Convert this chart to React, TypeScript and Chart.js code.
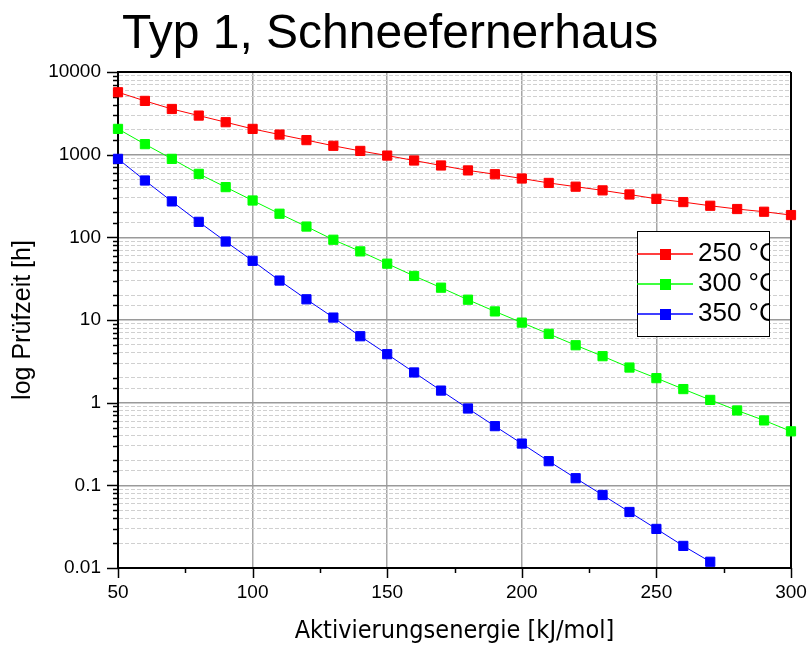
import { useEffect, useRef } from 'react';
import { Chart, registerables } from 'chart.js';

Chart.register(...registerables);

// Activation energy in kJ/mol (x axis)
const energies = [50, 60, 70, 80, 90, 100, 110, 120, 130, 140, 150, 160, 170, 180, 190, 200, 210, 220, 230, 240, 250, 260, 270, 280, 290, 300];

// Test duration in hours for each test temperature
const time250 = [5690, 4470, 3570, 2970, 2470, 2050, 1750, 1500, 1280, 1110, 975, 850, 740, 645, 580, 515, 455, 410, 370, 330, 292, 267, 241, 220, 204, 186];
const time300 = [2050, 1340, 890, 586, 405, 279, 193, 135, 93.5, 67.6, 48, 34.1, 24.6, 17.6, 12.7, 9.3, 6.8, 4.95, 3.65, 2.66, 1.98, 1.46, 1.08, 0.805, 0.61, 0.45];
const time350 = [890, 487, 272, 154, 89, 52, 30, 17.8, 10.7, 6.36, 3.86, 2.32, 1.4, 0.85, 0.52, 0.32, 0.196, 0.122, 0.0764, 0.0476, 0.0297, 0.0185, 0.0119];

const seriesLabels = ['250 °C', '300 °C', '350 °C'];
const seriesColors = ['#ff0000', '#00ff00', '#0000ff'];

const titleText = 'Typ 1, Schneefernerhaus';
const xTitle = 'Aktivierungsenergie [kJ/mol]';
const yTitle = 'log Prüfzeit [h]';

const CONDENSED = '"DejaVu Sans Condensed", "Liberation Sans", sans-serif';
const SANS = '"Liberation Sans", Arial, sans-serif';

const isDecade = (v: number) => {
  const l = Math.log10(v);
  return Math.abs(l - Math.round(l)) < 1e-6;
};

const formatDecade = (v: number) => {
  const e = Math.round(Math.log10(v));
  return e < 0 ? v.toFixed(-e) : String(Math.round(v));
};

// Frame, axis tick marks, title and the inset legend
const decorations = {
  id: 'decorations',
  beforeDatasetsDraw(chart: any) {
    const { ctx, chartArea } = chart;
    const { left, right, top, bottom } = chartArea;
    const xs = chart.scales.x;
    const ys = chart.scales.y;
    ctx.save();
    ctx.strokeStyle = '#000';
    // top and right frame
    ctx.lineWidth = 2;
    ctx.beginPath();
    ctx.moveTo(left, top);
    ctx.lineTo(right, top);
    ctx.moveTo(right, top);
    ctx.lineTo(right, bottom);
    ctx.stroke();
    // y ticks
    ctx.lineWidth = 1.5;
    ys.ticks.forEach((t: any) => {
      const y = Math.round(ys.getPixelForValue(t.value)) + 0.5;
      const len = isDecade(t.value) ? 11 : 5;
      ctx.beginPath();
      ctx.moveTo(left - len, y);
      ctx.lineTo(left, y);
      ctx.stroke();
    });
    // x ticks
    xs.ticks.forEach((t: any) => {
      const x = Math.round(xs.getPixelForValue(t.value)) + 0.5;
      const len = t.value % 50 === 0 ? 10 : 5;
      ctx.beginPath();
      ctx.moveTo(x, bottom);
      ctx.lineTo(x, bottom + len);
      ctx.stroke();
    });
    ctx.restore();
  },
  afterDraw(chart: any) {
    const { ctx } = chart;
    ctx.save();
    // title
    ctx.fillStyle = '#000';
    ctx.font = `48px ${SANS}`;
    ctx.textAlign = 'left';
    ctx.textBaseline = 'alphabetic';
    ctx.fillText(titleText, 122, 48);

    // legend
    const bx = 637, by = 231, bw = 132, bh = 105;
    ctx.fillStyle = '#fff';
    ctx.fillRect(bx, by, bw, bh);
    ctx.strokeStyle = '#000';
    ctx.lineWidth = 1;
    ctx.strokeRect(bx + 0.5, by + 0.5, bw, bh);
    ctx.beginPath();
    ctx.rect(bx, by, bw, bh);
    ctx.clip();
    chart.data.datasets.forEach((ds: any, i: number) => {
      const y = 254 + i * 30;
      ctx.strokeStyle = ds.borderColor;
      ctx.lineWidth = 1.5;
      ctx.beginPath();
      ctx.moveTo(bx, y);
      ctx.lineTo(bx + 56, y);
      ctx.stroke();
      ctx.fillStyle = ds.borderColor;
      ctx.fillRect(bx + 23, y - 5, 11, 11);
      ctx.fillStyle = '#000';
      ctx.font = `26px ${SANS}`;
      ctx.textBaseline = 'alphabetic';
      ctx.fillText(ds.label, bx + 61, y + 7);
    });
    ctx.restore();
  },
};

export default function App() {
  const canvasRef = useRef<HTMLCanvasElement | null>(null);

  useEffect(() => {
    if (!canvasRef.current) return;
    const series = [time250, time300, time350];
    const chart = new Chart(canvasRef.current, {
      type: 'line',
      data: {
        datasets: series.map((vals, i) => ({
          label: seriesLabels[i],
          data: vals.map((v, j) => ({ x: energies[j], y: v })),
          borderColor: seriesColors[i],
          backgroundColor: seriesColors[i],
          pointBackgroundColor: seriesColors[i],
          pointBorderColor: seriesColors[i],
          borderWidth: 1,
          pointStyle: 'rect',
          pointRadius: 6.5,
          pointBorderWidth: 1,
          tension: 0,
          clip: false,
        })),
      },
      options: {
        animation: false,
        responsive: false,
        devicePixelRatio: 1,
        layout: { padding: { top: 72, right: 19, left: 0, bottom: 0 } },
        plugins: {
          legend: { display: false },
          title: { display: false },
          tooltip: { enabled: false },
        },
        scales: {
          x: {
            type: 'linear',
            min: 50,
            max: 300,
            afterFit: (s: any) => { s.height = 80; },
            ticks: {
              stepSize: 25,
              autoSkip: false,
              maxRotation: 0,
              padding: 3,
              color: '#000',
              font: { family: SANS, size: 19 },
              callback: (v: any) => (Number(v) % 50 === 0 ? String(v) : ''),
            },
            grid: {
              color: (c: any) =>
                c.tick && c.tick.value % 50 === 0 && c.tick.value > 50 && c.tick.value < 300
                  ? '#a6a6a6'
                  : 'rgba(0,0,0,0)',
              lineWidth: 1.5,
              tickColor: 'rgba(0,0,0,0)',
              tickLength: 10,
            },
            border: { color: '#000', width: 2 },
            title: {
              display: true,
              text: xTitle,
              color: '#000',
              font: { family: CONDENSED, size: 25 },
              padding: { top: 0, bottom: 1.5 },
            },
          },
          y: {
            type: 'logarithmic',
            min: 0.01,
            max: 10000,
            afterFit: (s: any) => { s.width = 118; },
            ticks: {
              autoSkip: false,
              padding: 6,
              color: '#000',
              font: { family: SANS, size: 19 },
              callback: (v: any) => (isDecade(Number(v)) ? formatDecade(Number(v)) : ''),
            },
            grid: {
              color: (c: any) => (c.tick && isDecade(c.tick.value) ? '#9a9a9a' : '#d0d0d0'),
              lineWidth: (c: any) => (c.tick && isDecade(c.tick.value) ? 1.5 : 1),
              tickColor: 'rgba(0,0,0,0)',
              tickLength: 11,
            },
            border: {
              color: '#000',
              width: 2,
              dash: (c: any) => (c.tick && !isDecade(c.tick.value) ? [4, 2] : []),
            },
            title: {
              display: true,
              text: yTitle,
              color: '#000',
              font: { family: SANS, size: 25 },
              padding: { top: 8, bottom: 0 },
            },
          },
        },
      },
      plugins: [decorations],
    } as any);
    return () => chart.destroy();
  }, []);

  return (
    <div style={{ position: 'fixed', left: 0, top: 0, width: 810, height: 648, background: '#fff' }}>
      <canvas ref={canvasRef} width={810} height={648} style={{ width: 810, height: 648 }} />
    </div>
  );
}
